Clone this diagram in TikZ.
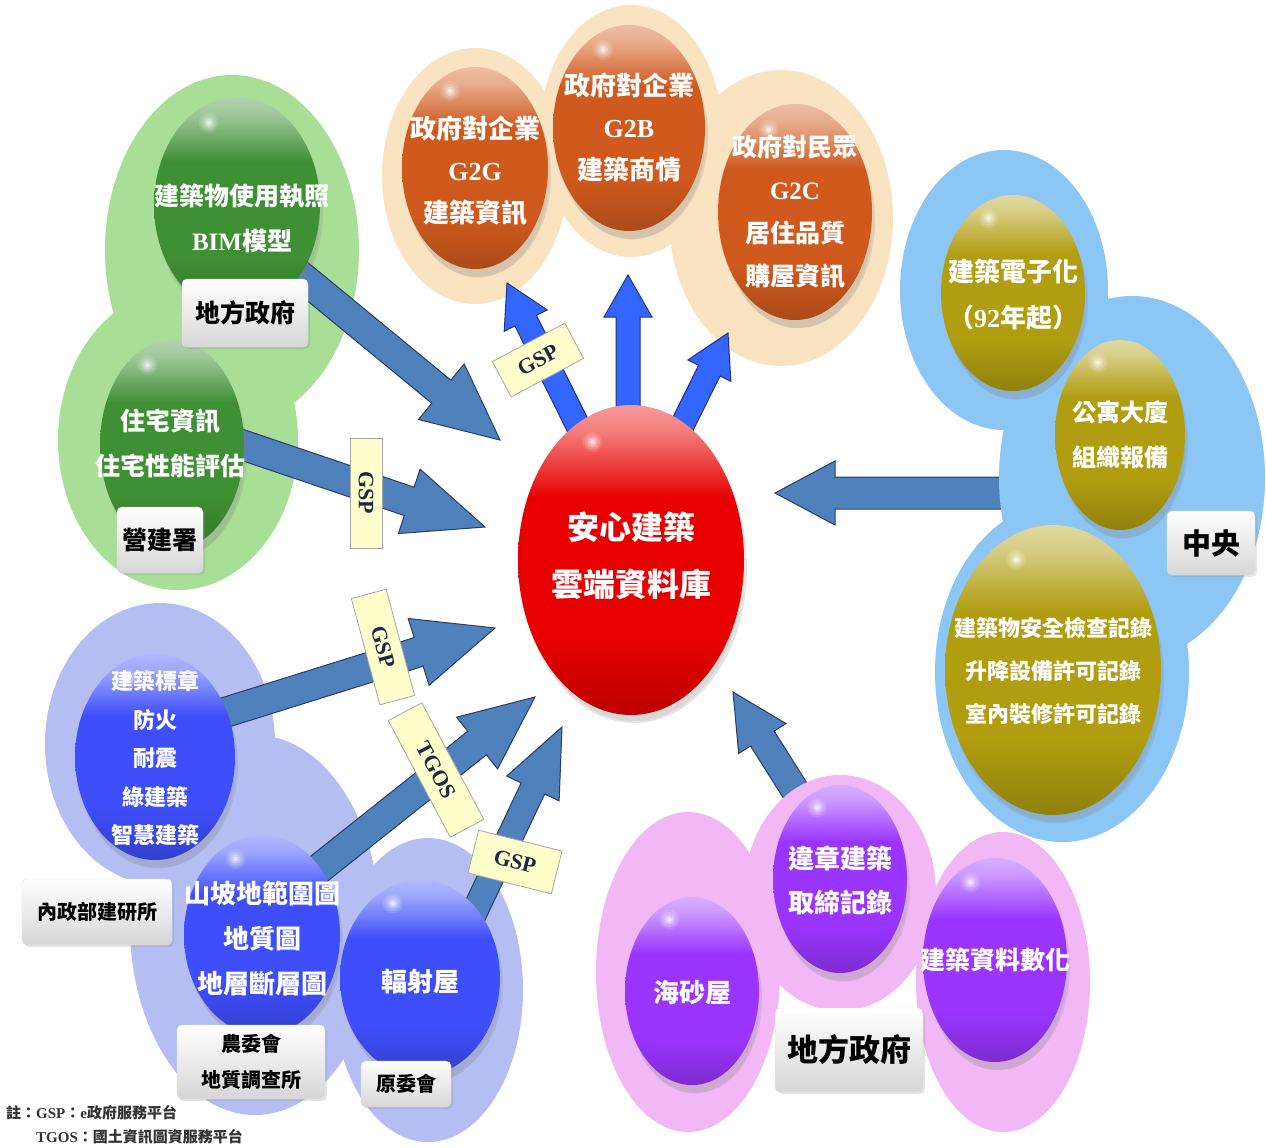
\documentclass[tikz,border=0pt]{standalone}
\usepackage{fontspec}
\setmainfont{Liberation Serif}
\newfontfamily\cjk{Noto Sans CJK TC}
\newfontfamily\lat{Liberation Serif}
\usetikzlibrary{calc,shapes.geometric,shadows}
\newcommand\fs[2]{\fontsize{#1}{#2}\selectfont}
\definecolor{peach}{RGB}{249,227,192}
\definecolor{greenbg}{RGB}{168,222,149}
\definecolor{lavbg}{RGB}{181,190,243}
\definecolor{pinkbg}{RGB}{242,184,246}
\definecolor{lbbg}{RGB}{139,198,245}
\definecolor{csorange}{RGB}{208,90,30}
\definecolor{csgreen}{RGB}{63,143,53}
\definecolor{csblue}{RGB}{62,78,250}
\definecolor{cspurple}{RGB}{154,53,255}
\definecolor{csolive}{RGB}{176,157,16}
\definecolor{csred}{RGB}{232,0,0}
\definecolor{arrb}{RGB}{79,129,189}
\definecolor{arrbd}{RGB}{40,62,100}
\definecolor{arru}{RGB}{51,102,255}
\definecolor{arrud}{RGB}{30,50,130}
\definecolor{tagy}{RGB}{255,255,204}
\definecolor{tagtext}{RGB}{30,40,70}
\colorlet{sphc}{red}
\pgfdeclareverticalshading[sphc]{sphshade}{100bp}{color(0bp)=(sphc!82!black); color(25bp)=(sphc!82!black); color(38bp)=(sphc); color(60bp)=(sphc); color(71bp)=(sphc!50!white); color(75bp)=(sphc!40!white); color(100bp)=(sphc!40!white)}
\newcommand\hlight{%
  \path let \p1=(path picture bounding box.north west), \p2=(path picture bounding box.south east) in
    ({\x1+0.33*(\x2-\x1)},{\y1-0.12*(\y1-\y2)}) coordinate (hlc);
  \foreach \r/\o in {10/0.12,7.5/0.18,5/0.3,2.5/0.5}{\fill[white,opacity=\o] (hlc) circle[radius=\r pt];}}
% block arrow: style, start, end, shaft half width, head half width, head length
\newcommand\blockarr[6]{%
  \path ($(#3)!#6!(#2)$) coordinate (bah);
  \path[#1] ($(#2)!#4!90:(#3)$) -- ($(bah)!#4!-90:(#2)$) -- ($(bah)!#5!-90:(#2)$) -- (#3)
     -- ($(bah)!#5!90:(#2)$) -- ($(bah)!#4!90:(#2)$) -- ($(#2)!#4!-90:(#3)$) -- cycle;}
\tikzset{
  setsph/.code={\colorlet{sphc}{#1}},
  sph/.style n args={3}{ellipse, inner sep=0pt, minimum width=#1pt, minimum height=#2pt,
     setsph=#3, shade, shading=sphshade,
     drop shadow={shadow xshift=3pt, shadow yshift=-13pt, opacity=0.12, shadow scale=0.96},
     drop shadow={shadow xshift=3pt, shadow yshift=-8pt, opacity=0.2},
     path picture={\hlight}},
  stxt/.style={text=white, align=center, inner sep=0pt},
  lbl/.style={rectangle, rounded corners=5pt, draw=black!12, top color=white, bottom color=black!16,
     text=black, inner sep=0pt, align=center,
     drop shadow={shadow xshift=2pt, shadow yshift=-2pt, opacity=0.2}},
  tag/.style={rectangle, fill=tagy, draw=black!35, line width=0.8pt, inner sep=0pt,
     text=tagtext, font={\lat\bfseries\fs{22}{22}}},
  barrow/.style={fill=arrb, draw=arrbd, line width=1pt, line join=miter},
  uarrow/.style={fill=arru, draw=arrud, line width=1pt, line join=miter},
}
\begin{document}
\begin{tikzpicture}[x=1pt,y=-1pt]
\useasboundingbox (0,0) rectangle (1266,1148);
\fill[white] (0,0) rectangle (1266,1148);
% backgrounds (first layer)
\fill[peach] (475,176) ellipse[x radius=93, y radius=128];
\fill[peach] (631,131) ellipse[x radius=91, y radius=126];
\fill[peach] (781,218) ellipse[x radius=112, y radius=148];
\fill[greenbg] (232,250) ellipse[x radius=127, y radius=175];
\fill[greenbg] (178,440) ellipse[x radius=120, y radius=150];
\fill[lavbg] (160,744) ellipse[x radius=115, y radius=141];
\fill[lavbg] (255,925) ellipse[x radius=125, y radius=190];
\fill[lavbg] (428,990) ellipse[x radius=95, y radius=152];
% arrows partly hidden by backgrounds
\coordinate (a6s) at (1040,493); \coordinate (a6e) at (775,493);
\blockarr{barrow}{a6s}{a6e}{16pt}{32pt}{60pt}
\coordinate (a7s) at (810,814); \coordinate (a7e) at (733,692);
\blockarr{barrow}{a7s}{a7e}{14pt}{28pt}{55pt}
% backgrounds (second layer)
\fill[lbbg] (1004,290) ellipse[x radius=104, y radius=140];
\fill[lbbg] (1132,478) ellipse[x radius=133, y radius=182];
\fill[lbbg] (1062,672) ellipse[x radius=127, y radius=170];
\fill[pinkbg] (688,972) ellipse[x radius=92, y radius=160];
\fill[pinkbg] (840,893) ellipse[x radius=96, y radius=118];
\fill[pinkbg] (1003,982) ellipse[x radius=87, y radius=150];
% arrows into the centre
\coordinate (a1s) at (291,268); \coordinate (a1e) at (500,440);
\blockarr{barrow}{a1s}{a1e}{15pt}{36pt}{76pt}
\coordinate (a2s) at (219,437); \coordinate (a2e) at (485,527);
\blockarr{barrow}{a2s}{a2e}{15pt}{34pt}{80pt}
\coordinate (a3s) at (201,720); \coordinate (a3e) at (495,628);
\blockarr{barrow}{a3s}{a3e}{15pt}{35pt}{80pt}
\coordinate (a4s) at (296,887); \coordinate (a4e) at (535,697);
\blockarr{barrow}{a4s}{a4e}{15pt}{33pt}{74pt}
\coordinate (a5s) at (465,932); \coordinate (a5e) at (562,727);
\blockarr{barrow}{a5s}{a5e}{13pt}{29pt}{68pt}
% arrows out of the centre
\coordinate (a8s) at (585,440); \coordinate (a8e) at (507,283);
\blockarr{uarrow}{a8s}{a8e}{12pt}{24pt}{42pt}
\coordinate (a9s) at (628,440); \coordinate (a9e) at (628,275);
\blockarr{uarrow}{a9s}{a9e}{12pt}{24pt}{42pt}
\coordinate (a10s) at (670,450); \coordinate (a10e) at (728,333);
\blockarr{uarrow}{a10s}{a10e}{12pt}{24pt}{42pt}
% tags
\node[tag, minimum width=110pt, minimum height=32pt, rotate=-90] (t1) at (366,493) {GSP};
\node[tag, minimum width=110pt, minimum height=36pt, rotate=-75] (t2) at (383,647) {GSP};
\node[tag, minimum width=132pt, minimum height=38pt, rotate=-62] (t3) at (436,770) {TGOS};
\node[tag, minimum width=86pt, minimum height=44pt, rotate=-14] (t4) at (515,862) {GSP};
\node[tag, minimum width=82pt, minimum height=40pt, rotate=28] (t5) at (538,360) {GSP};
% spheres
\node[sph={146}{202}{csorange}] (g2g) at (475,168) {};
\node[sph={152}{206}{csorange}] (g2b) at (629,128) {};
\node[sph={154}{216}{csorange}] (g2c) at (795,212) {};
\node[sph={226}{310}{csred}] (db) at (631,560) {};
\node[sph={166}{216}{csgreen}] (bim) at (237,205) {};
\node[sph={144}{210}{csgreen}] (zhu) at (172,445) {};
\node[sph={160}{206}{csblue}] (biao) at (155,757) {};
\node[sph={156}{200}{csblue}] (shan) at (262,935) {};
\node[sph={160}{196}{csblue}] (fu) at (420,978) {};
\node[sph={134}{188}{cspurple}] (wei) at (840,879) {};
\node[sph={134}{188}{cspurple}] (hai) at (692,991) {};
\node[sph={144}{204}{cspurple}] (shu) at (995,960) {};
\node[sph={144}{196}{csolive}] (dz) at (1013,293) {};
\node[sph={130}{190}{csolive}] (gy) at (1120,435) {};
\node[sph={216}{290}{csolive}] (aq) at (1053,670) {};
% sphere texts
\node[stxt, font={\cjk\bfseries\fs{26}{42}}] (g2g-t) at (475,171) {政府對企業\\{\lat\bfseries G2G}\\建築資訊};
\node[stxt, font={\cjk\bfseries\fs{26}{42}}] (g2b-t) at (629,128) {政府對企業\\{\lat\bfseries G2B}\\建築商情};
\node[stxt, font={\cjk\bfseries\fs{25}{43}}] (g2c-t) at (795,212) {政府對民眾\\{\lat\bfseries G2C}\\居住品質\\購屋資訊};
\node[stxt, font={\cjk\bfseries\fs{32}{57}}] (db-t) at (631,556) {安心建築\\雲端資料庫};
\node[stxt, font={\cjk\bfseries\fs{25}{45}}] (bim-t) at (242,218) {建築物使用執照\\{\lat\bfseries BIM}模型};
\node[stxt, font={\cjk\bfseries\fs{25}{45}}] (zhu-t) at (170,443) {住宅資訊\\住宅性能評估};
\node[stxt, font={\cjk\bfseries\fs{22}{38.5}}] (biao-t) at (155,758) {建築標章\\防火\\耐震\\綠建築\\智慧建築};
\node[stxt, font={\cjk\bfseries\fs{26}{45}}] (shan-t) at (262,938) {山坡地範圍圖\\地質圖\\地層斷層圖};
\node[stxt, font={\cjk\bfseries\fs{26}{45}}] (fu-t) at (420,982) {輻射屋};
\node[stxt, font={\cjk\bfseries\fs{26}{44}}] (wei-t) at (840,880) {違章建築\\取締記錄};
\node[stxt, font={\cjk\bfseries\fs{26}{44}}] (hai-t) at (692,993) {海砂屋};
\node[stxt, font={\cjk\bfseries\fs{25}{44}}] (shu-t) at (995,960) {建築資料數化};
\node[stxt, font={\cjk\bfseries\fs{26}{46}}] (dz-t) at (1013,295) {建築電子化\\（{\lat\bfseries 92}年起）};
\node[stxt, font={\cjk\bfseries\fs{24}{45}}] (gy-t) at (1120,435) {公寓大廈\\組織報備};
\node[stxt, font={\cjk\bfseries\fs{22}{43}}] (aq-t) at (1053,671) {建築物安全檢查記錄\\升降設備許可記錄\\室內裝修許可記錄};
% organisation labels
\node[lbl, minimum width=126pt, minimum height=68pt, font={\cjk\bfseries\fs{25}{30}}] (l-dfzf) at (245,313) {地方政府};
\node[lbl, minimum width=86pt, minimum height=66pt, font={\cjk\bfseries\fs{25}{30}}] (l-yjs) at (160,540) {營建署};
\node[lbl, minimum width=88pt, minimum height=64pt, font={\cjk\bfseries\fs{29}{34}}] (l-zy) at (1211,543) {中央};
\node[lbl, minimum width=150pt, minimum height=66pt, font={\cjk\bfseries\fs{20}{24}}] (l-nzb) at (97,912) {內政部建研所};
\node[lbl, minimum width=148pt, minimum height=74pt, font={\cjk\bfseries\fs{20}{36}}] (l-nwh) at (251,1062) {農委會\\地質調查所};
\node[lbl, minimum width=90pt, minimum height=46pt, font={\cjk\bfseries\fs{20}{24}}] (l-ywh) at (406,1084) {原委會};
\node[lbl, minimum width=148pt, minimum height=84pt, font={\cjk\bfseries\fs{31}{36}}] (l-dfzf2) at (849,1050) {地方政府};
% footnote
\node[anchor=west, inner sep=0pt, text=black!80, font={\cjk\bfseries\fs{15}{18}}] (note1) at (6,1113) {註：{\lat\bfseries GSP}：{\lat\bfseries e}政府服務平台};
\node[anchor=west, inner sep=0pt, text=black!80, font={\cjk\bfseries\fs{15}{18}}] (note2) at (36,1137) {{\lat\bfseries TGOS}：國土資訊圖資服務平台};
\end{tikzpicture}
\end{document}
